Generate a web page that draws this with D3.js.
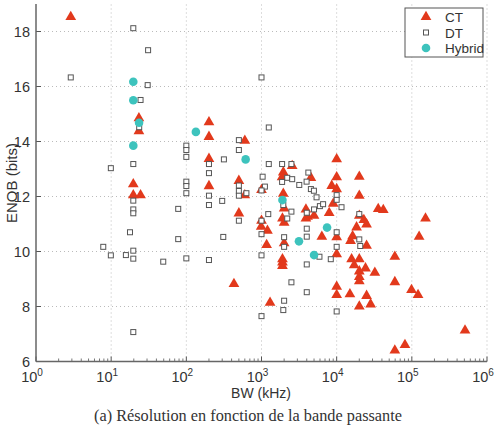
<!DOCTYPE html>
<html><head><meta charset="utf-8">
<script src="https://cdn.jsdelivr.net/npm/d3@7"></script>
<style>body{margin:0;background:#fff}svg{display:block}</style>
</head><body><svg id="c" width="496" height="428"></svg>
<script>
// ---- data (BW in kHz, ENOB in bits) ----
const ctData = [
 [2.9,18.53],[23.4,14.85],[23.4,14.38],[19.7,12.45],[19.7,12.05],[24.6,12.05],
 [200,14.7],[200,14.17],[200,13.37],[200,12.38],[600,14.03],[500,12.57],[600,12.05],[500,11.39],[430,8.82],
 [1000,12.24],[1000,11.12],[990,10.9],[1200,10.76],[1170,10.24],[1300,8.14],
 [2560,13.11],[1950,12.88],[1880,12.7],[1950,12.1],[2000,11.57],[1900,11.2],[2000,11.05],
 [2000,10.3],[1900,9.72],[1900,9.6],[1900,9.48],
 [4540,12.68],[3900,11.53],[4100,11.27],[3900,11.2],[5000,11.3],[6350,10.54],[7950,11.4],
 [8600,12.39],[9000,11.74],
 [10000,13.36],[10000,12.7],[10000,12.27],[10000,10.52],[10000,9.9],[10000,8.72],[10000,8.42],
 [20000,12.72],[20000,12.03],[20000,11.3],[23000,11.15],[25000,10.99],[18400,10.88],
 [16300,10.56],[15300,10.39],[25000,10.21],
 [15800,9.72],[20000,9.72],[17100,9.5],[24200,9.39],[20000,9.28],[32200,9.23],[20000,9.08],[20000,8.92],
 [15000,8.45],[25000,8.39],[20000,8.0],[28300,8.08],
 [35700,11.55],[41700,11.51],[59400,9.81],[59400,8.89],[99000,8.6],[121000,8.42],
 [152000,11.2],[125000,10.54],[510000,7.13],[81000,6.6],[59400,6.4]
];
const dtData = [
 [2.9,16.33],[19.7,18.12],[31,17.32],[30.6,16.05],[24.6,15.51],[23.6,14.52],[19.7,13.18],[9.9,13.03],
 [19.7,11.85],[19.7,11.53],[19.7,11.39],[17.8,10.7],[7.85,10.17],[9.9,9.86],[15.7,9.87],[19.7,10.03],[19.7,9.74],[19.7,7.07],
 [49.3,9.63],[78,11.55],[78,10.45],
 [100,13.85],[100,13.69],[100,13.44],[100,12.54],[100,12.38],[100,12.12],[100,9.75],
 [200,13.18],[200,12.85],[200,12.03],[200,11.69],[200,9.69],
 [316,13.35],[300,11.84],[310,10.53],
 [500,14.05],[500,13.69],[500,12.4],[500,12.2],[500,12.03],[500,11.12],[630,12.12],
 [1000,16.33],[1250,14.51],[1250,13.18],[1880,13.18],[2500,13.18],
 [1035,12.72],[1110,12.36],[1000,12.22],[2200,12.68],[2560,12.63],[1880,12.53],
 [3180,12.42],[4200,12.87],[3980,12.54],[4540,12.27],[4980,12.21],[5400,11.97],
 [1950,11.69],[2500,11.45],[4000,11.41],[5000,11.53],[5980,11.65],[6600,11.72],[2200,11.2],
 [1230,11.36],[1000,11.12],[1000,10.63],[1000,9.86],[1000,7.65],
 [2000,10.52],[2000,10.17],[2500,8.88],[2000,8.21],[1950,7.87],
 [4000,10.83],[4000,10.54],[4000,9.53],[4000,8.52],[5900,9.81],[8350,9.72],
 [10000,12.05],[10000,11.88],[11600,11.61],[10000,10.7],[10000,10.17],[10000,7.82],
 [20000,11.36],[20000,10.44],[20600,10.2]
];
const hybridData = [
 [19.7,16.17],[19.7,15.5],[23.5,14.68],[19.7,13.85],[134,14.35],[615,13.35],
 [1900,11.87],[3150,10.37],[7450,10.87],[5000,9.87]
];
const xTickExps = [0,1,2,3,4,5,6];
const yTicks = [6,8,10,12,14,16,18];
const legendLabels = ["CT","DT","Hybrid"];

// ---- layout ----
const svg = d3.select("#c");
const L = 36, R = 487, T = 4, B = 361.5;
const x = d3.scaleLog().domain([1,1e6]).range([L,R]);
const y = d3.scaleLinear().domain([6,19]).range([B,T]);
const font = "'Liberation Sans', Arial, Helvetica, sans-serif";
const txt = "#333";
const red = "#e2391c", teal = "#3dc3bd", sq = "#555";

// grid
const g = svg.append("g");
g.selectAll(".gx").data(xTickExps.slice(1)).enter().append("line")
 .attr("x1",d=>x(Math.pow(10,d))).attr("x2",d=>x(Math.pow(10,d)))
 .attr("y1",B).attr("y2",T).attr("stroke","#bbb").attr("stroke-width",1).attr("stroke-dasharray","1,3");
g.selectAll(".gy").data(yTicks.slice(1)).enter().append("line")
 .attr("x1",L).attr("x2",R).attr("y1",d=>y(d)).attr("y2",d=>y(d))
 .attr("stroke","#bbb").attr("stroke-width",1).attr("stroke-dasharray","1,3");

// minor ticks x
const minors = [];
for (let e=0;e<6;e++) for (let k=2;k<10;k++) minors.push(k*Math.pow(10,e));
g.selectAll(".mx").data(minors).enter().append("line")
 .attr("x1",d=>x(d)).attr("x2",d=>x(d)).attr("y1",B).attr("y2",B-3)
 .attr("stroke","#555").attr("stroke-width",0.8);
g.selectAll(".Mx").data(xTickExps).enter().append("line")
 .attr("x1",d=>x(Math.pow(10,d))).attr("x2",d=>x(Math.pow(10,d))).attr("y1",B).attr("y2",B-5)
 .attr("stroke","#555").attr("stroke-width",1);
g.selectAll(".My").data(yTicks).enter().append("line")
 .attr("x1",L).attr("x2",L+5).attr("y1",d=>y(d)).attr("y2",d=>y(d))
 .attr("stroke","#555").attr("stroke-width",1);

// axes lines
svg.append("line").attr("x1",L).attr("x2",R).attr("y1",B).attr("y2",B).attr("stroke","#666").attr("stroke-width",1.5);
svg.append("line").attr("x1",L).attr("x2",L).attr("y1",B).attr("y2",T).attr("stroke","#666").attr("stroke-width",1.5);

// tick labels
svg.selectAll(".yl").data(yTicks).enter().append("text")
 .attr("x",L-6).attr("y",d=>y(d)+5).attr("text-anchor","end")
 .attr("font-family",font).attr("font-size",14.5).attr("fill",txt).text(d=>d);
const xl = svg.selectAll(".xl").data(xTickExps).enter().append("text")
 .attr("x",d=>x(Math.pow(10,d))-4).attr("y",382).attr("text-anchor","middle")
 .attr("font-family",font).attr("font-size",14.5).attr("fill",txt);
xl.append("tspan").text("10");
xl.append("tspan").attr("dy",-6).attr("font-size",10).text(d=>d);

// axis labels
svg.append("text").attr("x",261).attr("y",398).attr("text-anchor","middle")
 .attr("font-family",font).attr("font-size",14).attr("fill",txt).text("BW (kHz)");
svg.append("text").attr("transform","translate(17,183) rotate(-90)").attr("text-anchor","middle")
 .attr("font-family",font).attr("font-size",15).attr("fill",txt).text("ENOB (bits)");
svg.append("text").attr("x",248).attr("y",421).attr("text-anchor","middle")
 .attr("font-family","'Liberation Serif','DejaVu Serif',serif").attr("font-size",16.3).attr("fill","#333")
 .text("(a) Résolution en fonction de la bande passante");

// marks
const tri = d3.symbol().type(d3.symbolTriangle).size(50);
svg.append("g").selectAll("path").data(ctData).enter().append("path")
 .attr("d",tri).attr("transform",d=>`translate(${x(d[0])},${y(d[1])})`).attr("fill",red);
svg.append("g").selectAll("rect").data(dtData).enter().append("rect")
 .attr("x",d=>x(d[0])-2.5).attr("y",d=>y(d[1])-2.5).attr("width",5).attr("height",5)
 .attr("fill","#fff").attr("stroke",sq).attr("stroke-width",1);
svg.append("g").selectAll("circle").data(hybridData).enter().append("circle")
 .attr("cx",d=>x(d[0])).attr("cy",d=>y(d[1])).attr("r",4.3).attr("fill",teal);

// legend
const lg = svg.append("g");
lg.append("rect").attr("x",405).attr("y",8).attr("width",78).attr("height",49)
 .attr("fill","#fff").attr("stroke","#555").attr("stroke-width",1);
legendLabels.forEach((lab,i)=>{
 const yy = 17 + i*15.5;
 if(i===0) lg.append("path").attr("d",tri).attr("transform",`translate(426,${yy})`).attr("fill",red);
 if(i===1) lg.append("rect").attr("x",423.5).attr("y",yy-2.5).attr("width",5).attr("height",5).attr("fill","#fff").attr("stroke",sq);
 if(i===2) lg.append("circle").attr("cx",426).attr("cy",yy).attr("r",4.3).attr("fill",teal);
 lg.append("text").attr("x",445).attr("y",yy+5).attr("font-family",font).attr("font-size",13.5).attr("fill",txt).text(lab);
});
</script></body></html>
